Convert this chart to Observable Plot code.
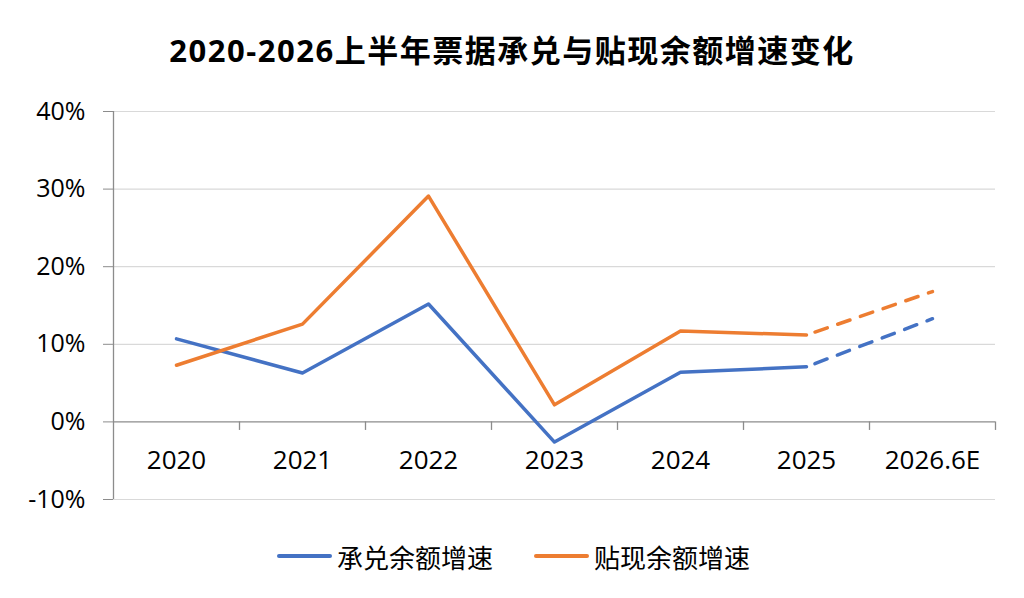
<!DOCTYPE html>
<html><head><meta charset="utf-8">
<script src="https://cdn.jsdelivr.net/npm/d3@7"></script>
<script src="https://cdn.jsdelivr.net/npm/@observablehq/plot@0.6"></script>
<style>
body{margin:0;background:#fff;width:1024px;height:598px;overflow:hidden;position:relative;font-family:"Open Sans","Noto Sans CJK SC",sans-serif;}
#title{position:absolute;top:0;left:0;width:1024px;height:100px;line-height:100px;text-align:center;font-size:31px;letter-spacing:1.5px;font-weight:bold;color:#000;font-family:"Open Sans","Noto Sans CJK SC",sans-serif;}
#chart{position:absolute;top:90px;left:0;}
#legend{position:absolute;top:536px;left:0;width:1024px;height:40px;}
.item{position:absolute;top:0;height:40px;display:flex;align-items:center;font-size:26px;color:#000;font-family:"Noto Sans CJK SC",sans-serif;}
.sw{display:inline-block;width:55px;height:4px;border-radius:2px;margin-right:5px;}
</style></head><body>
<div id="title">2020-2026上半年票据承兑与贴现余额增速变化</div>
<div id="chart"></div>
<div id="legend"></div>
<script>
const categories = ["2020","2021","2022","2023","2024","2025","2026.6E"];
const acceptGrowth = [10.7, 6.3, 15.2, -2.6, 6.4, 7.1, 13.3];
const discountGrowth = [7.3, 12.6, 29.1, 2.2, 11.7, 11.2, 16.8];
const seriesNames = ["承兑余额增速","贴现余额增速"];
const seriesColors = ["#4472C4","#ED7D31"];
const yTicks = [-10, 0, 10, 20, 30, 40];
const forecastStart = 5; // index where dashed forecast segment begins

const rows = [];
[acceptGrowth, discountGrowth].forEach((vals, s) => {
  vals.forEach((v, i) => rows.push({series: seriesNames[s], cat: categories[i], value: v, i}));
});
const solid = rows.filter(d => d.i <= forecastStart);
const dashed = rows.filter(d => d.i >= forecastStart);

const W = 1024, H = 440, mL = 113, mR = 29, mT = 21, mB = 31;
const step = (W - mL - mR) / categories.length;

const plot = Plot.plot({
  width: W, height: H,
  marginLeft: mL, marginRight: mR, marginTop: mT, marginBottom: mB,
  style: {fontFamily: '"Open Sans","Noto Sans CJK SC",sans-serif', fontSize: "25px", color: "#000", background: "#fff"},
  x: {type: "point", domain: categories, padding: 0.5, label: null, axis: null},
  y: {domain: [-10, 40], label: null, axis: null},
  color: {domain: seriesNames, range: seriesColors},
  marks: [
    Plot.ruleY(yTicks.filter(t => t !== 0), {y: d => d, stroke: "#d9d9d9", strokeWidth: 1.2}),
    Plot.ruleY([0], {stroke: "#8c8c8c", strokeWidth: 1.3}),
    Plot.ruleX([categories[0]], {x: d => d, y1: -10, y2: 40, dx: -step / 2, stroke: "#8c8c8c", strokeWidth: 1.3}),
    Plot.ruleX(categories, {x: d => d, y1: 0, y2: -1.1, dx: step / 2, stroke: "#8c8c8c", strokeWidth: 1.3}),
    Plot.axisY({ticks: yTicks, tickFormat: d => d + "%", tickSize: 10, tickPadding: 18, stroke: "#8c8c8c", fill: "#000", fontSize: 25, label: null}),
    Plot.text(categories, {x: d => d, y: 0, text: d => d, dy: 39, fill: "#000", fontSize: 26, lineAnchor: "middle"}),
    Plot.line(solid, {x: "cat", y: "value", z: "series", stroke: "series", strokeWidth: 3.5, strokeLinejoin: "round", strokeLinecap: "round"}),
    Plot.line(dashed, {x: "cat", y: "value", z: "series", stroke: "series", strokeWidth: 3.5, strokeDasharray: "13 11", strokeDashoffset: -9, strokeLinecap: "round"})
  ]
});
document.getElementById("chart").appendChild(plot);

const legend = document.getElementById("legend");
const lefts = [277, 534];
seriesNames.forEach((n, i) => {
  const it = document.createElement("div");
  it.className = "item";
  it.style.left = lefts[i] + "px";
  it.innerHTML = `<span class="sw" style="background:${seriesColors[i]}"></span>${n}`;
  legend.appendChild(it);
});
</script>
</body></html>
